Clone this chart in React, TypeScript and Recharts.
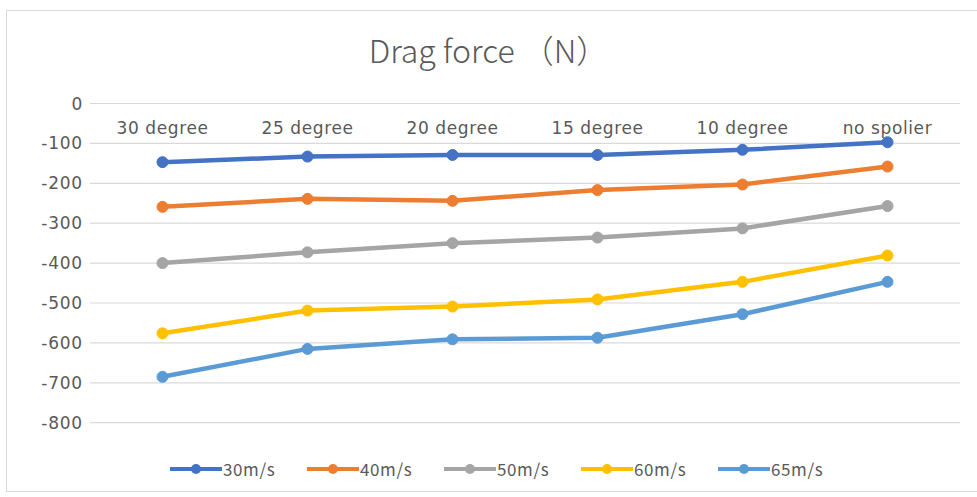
import React from "react";
import {
  LineChart,
  Line,
  XAxis,
  YAxis,
  CartesianGrid,
  Legend,
} from "recharts";

const categories = [
  "30 degree",
  "25 degree",
  "20 degree",
  "15 degree",
  "10 degree",
  "no spolier",
];

const speed30 = [-147, -133, -129, -129, -116, -97];
const speed40 = [-259, -239, -244, -217, -203, -158];
const speed50 = [-400, -373, -350, -336, -313, -257];
const speed60 = [-576, -519, -509, -491, -447, -381];
const speed65 = [-685, -615, -591, -587, -528, -447];

const yTicks = [0, -100, -200, -300, -400, -500, -600, -700, -800];

const seriesList = [
  { key: "30m/s", values: speed30, color: "#4472C4" },
  { key: "40m/s", values: speed40, color: "#ED7D31" },
  { key: "50m/s", values: speed50, color: "#A5A5A5" },
  { key: "60m/s", values: speed60, color: "#FFC000" },
  { key: "65m/s", values: speed65, color: "#5B9BD5" },
];

const data = categories.map((name, i) => {
  const row: any = { name };
  seriesList.forEach((s) => {
    row[s.key] = s.values[i];
  });
  return row;
});

const TEXT = "#595959";
const FONT = "'DejaVu Sans', sans-serif";

const CategoryTick = (props: any) => (
  <text
    x={props.x}
    y={props.y}
    dy={30}
    textAnchor="middle"
    fill={TEXT}
    fontSize={17}
    fontFamily={FONT}
    letterSpacing={0.6}
  >
    {props.payload.value}
  </text>
);

const LegendContent = () => (
  <div style={{ display: "flex", gap: 25 }}>
    {seriesList.map((s) => (
      <div key={s.key} style={{ display: "flex", alignItems: "center", width: 112 }}>
        <svg width={52} height={14}>
          <line x1={0} y1={7} x2={52} y2={7} stroke={s.color} strokeWidth={4} />
          <circle cx={26} cy={7} r={5} fill={s.color} />
        </svg>
        <span
          style={{
            color: TEXT,
            fontSize: 17,
            fontFamily: "'Noto Sans CJK SC', sans-serif",
            letterSpacing: 0.6,
            marginLeft: 1,
          }}
        >
          {s.key}
        </span>
      </div>
    ))}
  </div>
);

export default function App() {
  return (
    <div
      style={{
        position: "absolute",
        left: 0,
        top: 0,
        width: 977,
        height: 497,
        background: "#fff",
      }}
    >
      <div
        style={{
          position: "absolute",
          left: 6,
          top: 10,
          width: 975,
          height: 480,
          border: "1px solid #d9d9d9",
        }}
      />
      <div
        style={{
          position: "absolute",
          left: 0,
          top: 26,
          width: 977,
          textAlign: "center",
          fontSize: 32,
          fontWeight: 300,
          color: TEXT,
          fontFamily: "'Noto Sans CJK SC', sans-serif",
        }}
      >
        Drag force （N）
      </div>
      <LineChart
        width={977}
        height={497}
        data={data}
        margin={{ top: 73.5, right: 17, bottom: 74.3, left: 10 }}
      >
        <CartesianGrid vertical={false} stroke="#d9d9d9" strokeWidth={1.2} />
        <XAxis
          dataKey="name"
          orientation="top"
          height={30}
          axisLine={false}
          tickLine={false}
          tickSize={0}
          tickMargin={0}
          interval={0}
          padding={{ left: 72.5, right: 72.5 }}
          tick={<CategoryTick />}
        />
        <YAxis
          domain={[-800, 0]}
          ticks={yTicks}
          width={80}
          axisLine={false}
          tickLine={false}
          tickSize={0}
          tickMargin={7}
          interval={0}
          tick={{ fill: TEXT, fontSize: 17, fontFamily: FONT, letterSpacing: 0.8 }}
        />
        <Legend
          verticalAlign="middle"
          wrapperStyle={{ top: 456, left: 170 }}
          content={<LegendContent />}
        />
        {seriesList.map((s) => (
          <Line
            key={s.key}
            dataKey={s.key}
            stroke={s.color}
            strokeWidth={4.5}
            dot={{ r: 5.5, fill: s.color, stroke: s.color, strokeWidth: 1 }}
            activeDot={false}
            isAnimationActive={false}
          />
        ))}
      </LineChart>
    </div>
  );
}
